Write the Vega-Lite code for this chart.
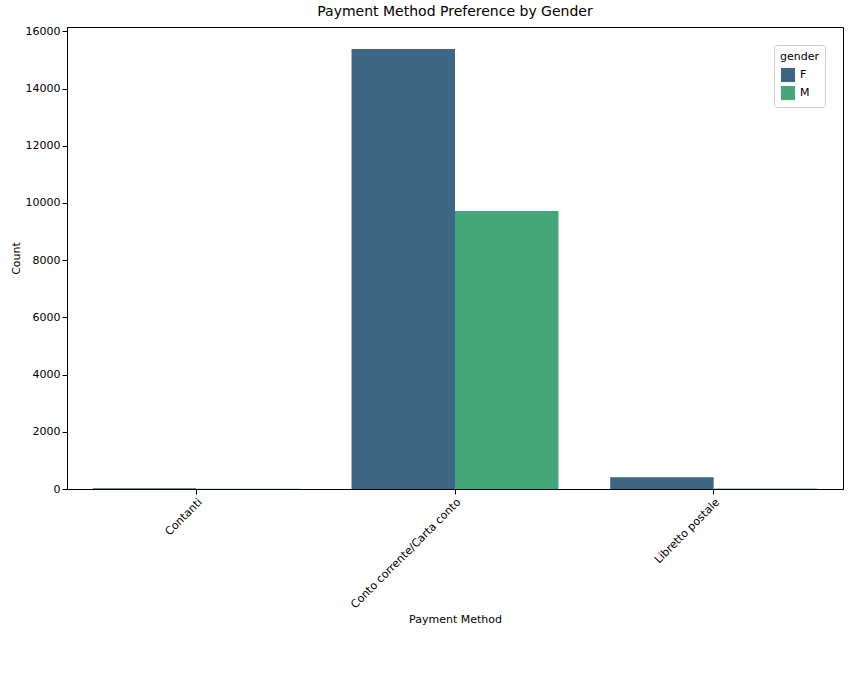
{
  "$schema": "https://vega.github.io/schema/vega-lite/v6.json",
  "width": 776,
  "height": 462,
  "padding": {"left": 10, "top": 5, "right": 5, "bottom": 5},
  "title": {"text": "Payment Method Preference by Gender", "fontSize": 14, "fontWeight": "normal", "font": "DejaVu Sans", "color": "black", "offset": 6},
  "data": {
    "values": [
      {"method": "Contanti", "gender": "F", "count": 22},
      {"method": "Contanti", "gender": "M", "count": 12},
      {"method": "Conto corrente/Carta conto", "gender": "F", "count": 15380},
      {"method": "Conto corrente/Carta conto", "gender": "M", "count": 9720},
      {"method": "Libretto postale", "gender": "F", "count": 410},
      {"method": "Libretto postale", "gender": "M", "count": 15}
    ]
  },
  "mark": {"type": "bar"},
  "encoding": {
    "x": {
      "field": "method", "type": "nominal", "title": "Payment Method",
      "scale": {"paddingInner": 0.2, "paddingOuter": 0.1},
      "axis": {"labelAngle": -45, "labelAlign": "right", "labelBaseline": "top", "labelFontSize": 11, "titleFontSize": 11, "titleFontWeight": "normal", "grid": false, "tickColor": "black", "domainColor": "black", "labelColor": "black"}
    },
    "xOffset": {"field": "gender", "type": "nominal"},
    "y": {
      "field": "count", "type": "quantitative", "title": "Count",
      "scale": {"domain": [0, 16150], "nice": false},
      "axis": {"values": [0, 2000, 4000, 6000, 8000, 10000, 12000, 14000, 16000], "format": "d", "grid": false, "labelFontSize": 11, "titleFontSize": 11, "titleFontWeight": "normal", "tickColor": "black", "domainColor": "black", "labelColor": "black"}
    },
    "color": {
      "field": "gender", "type": "nominal", "title": "gender",
      "scale": {"domain": ["F", "M"], "range": ["#3c6682", "#45a778"]},
      "legend": {"orient": "top-right", "symbolType": "square", "symbolSize": 200, "labelFontSize": 11, "titleFontSize": 11, "titleFontWeight": "normal", "strokeColor": "#cccccc", "fillColor": "white", "padding": 6, "cornerRadius": 3}
    }
  },
  "config": {
    "font": "DejaVu Sans",
    "view": {"stroke": "black"}
  }
}
